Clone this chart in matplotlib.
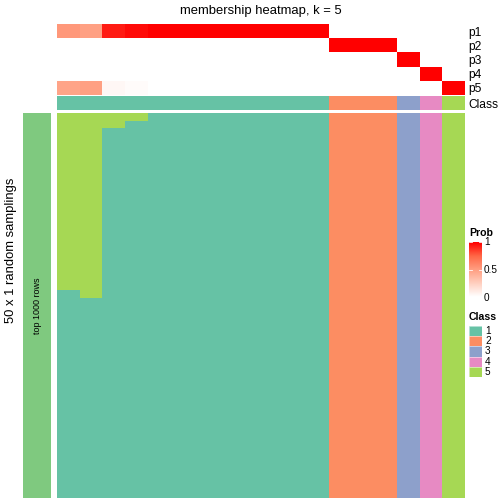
import numpy as np
import matplotlib
matplotlib.use("Agg")
import matplotlib.pyplot as plt
from matplotlib.colors import ListedColormap, LinearSegmentedColormap, BoundaryNorm

plt.rcParams["font.family"] = ["Liberation Sans", "DejaVu Sans"]

# data
sample_class = [1] * 12 + [2] * 3 + [3, 4, 5]
p1 = [0.53, 0.49, 0.93, 0.97, 1, 1, 1, 1, 1, 1, 1, 1, 0, 0, 0, 0, 0, 0]
p2 = [0, 0, 0, 0, 0, 0, 0, 0, 0, 0, 0, 0, 1, 1, 1, 0, 0, 0]
p3 = [0, 0, 0, 0, 0, 0, 0, 0, 0, 0, 0, 0, 0, 0, 0, 1, 0, 0]
p4 = [0, 0, 0, 0, 0, 0, 0, 0, 0, 0, 0, 0, 0, 0, 0, 0, 1, 0]
p5 = [0.47, 0.49, 0.04, 0.02, 0, 0, 0, 0, 0, 0, 0, 0, 0, 0, 0, 0, 0, 1]
# how many of the 50 samplings put each sample in class 5 (top rows)
n_rows = 50
class5_rows = [23, 24, 2, 1, 0, 0, 0, 0, 0, 0, 0, 0, 0, 0, 0, 0, 0, 0]

class_colors = ["#66C2A5", "#FC8D62", "#8DA0CB", "#E78AC3", "#A6D854"]
prob_cmap = LinearSegmentedColormap.from_list(
    "prob", [(0, "#FFFFFF"), (0.25, "#FFCFBF"), (0.5, "#FF9E81"), (0.75, "#FF6746"), (1, "#FF0000")])
class_cmap = ListedColormap(class_colors)
class_norm = BoundaryNorm(np.arange(0.5, 6.5, 1), 5)

W = H = 504
fig = plt.figure(figsize=(7, 7), dpi=72)


def px_axes(x0, y0, x1, y1):
    # pixel box (top-left origin) -> axes
    return fig.add_axes([x0 / W, 1 - y1 / H, (x1 - x0) / W, (y1 - y0) / H])


ncol = len(sample_class)
hm_x0, hm_x1 = 57, 465

# probability rows
probs = np.array([p1, p2, p3, p4, p5])
ax_p = px_axes(hm_x0, 24, hm_x1, 95)
ax_p.pcolormesh(np.arange(ncol + 1), np.arange(6), probs, cmap=prob_cmap, vmin=0, vmax=1)
ax_p.set_ylim(5, 0)
ax_p.axis("off")
for i in range(5):
    fig.text(468 / W, 1 - (25.5 + (i + 0.5) * 14.2) / H, f"p{i + 1}", fontsize=12, va="center")

# class row
ax_c = px_axes(hm_x0, 96, hm_x1, 110)
ax_c.pcolormesh(np.arange(ncol + 1), [0, 1], np.array([sample_class]), cmap=class_cmap, norm=class_norm)
ax_c.axis("off")
fig.text(468 / W, 1 - 104.5 / H, "Class", fontsize=12, va="center")

# membership heatmap
member = np.array([[5 if r < class5_rows[j] else sample_class[j] for j in range(ncol)]
                   for r in range(n_rows)])
ax_h = px_axes(hm_x0, 113, hm_x1, 498)
ax_h.pcolormesh(np.arange(ncol + 1), np.arange(n_rows + 1), member, cmap=class_cmap, norm=class_norm)
ax_h.set_ylim(n_rows, 0)
ax_h.axis("off")

# left bar
ax_l = px_axes(23, 113, 51, 498)
ax_l.set_facecolor("#7FC97F")
ax_l.set_xticks([])
ax_l.set_yticks([])
for s in ax_l.spines.values():
    s.set_visible(False)
ax_l.text(0.5, 0.5, "top 1000 rows", rotation=90, ha="center", va="center", fontsize=9,
          transform=ax_l.transAxes)

fig.text(11 / W, 1 - 250 / H, "50 x 1 random samplings", rotation=90, ha="center", va="center", fontsize=13)
fig.text((hm_x0 + hm_x1) / 2 / W, 1 - 11 / H, "membership heatmap, k = 5", ha="center", va="center", fontsize=13)

# Prob legend
fig.text(469 / W, 1 - 233 / H, "Prob", fontsize=10.5, fontweight="bold", va="center")
ax_cb = px_axes(469, 242, 482, 297)
grad = np.linspace(1, 0, 100).reshape(-1, 1)
ax_cb.imshow(grad, cmap=prob_cmap, vmin=0, vmax=1, aspect="auto", extent=[0, 1, 0, 1])
ax_cb.set_xticks([])
ax_cb.set_yticks([])
for s in ax_cb.spines.values():
    s.set_visible(False)
for v in [0, 0.5, 1]:
    ax_cb.plot([0, 0.2], [v, v], color="white", lw=0.8)
    ax_cb.plot([0.8, 1], [v, v], color="white", lw=0.8)
    fig.text(484 / W, 1 - (298 - v * 56) / H, f"{v:g}", fontsize=10, va="center")
ax_cb.set_xlim(0, 1)
ax_cb.set_ylim(0, 1)

# Class legend
fig.text(469 / W, 1 - 317 / H, "Class", fontsize=10.5, fontweight="bold", va="center")
for i, c in enumerate(class_colors):
    y0 = 326 + i * 10.2
    ax_b = px_axes(469, y0, 482, y0 + 10.2)
    ax_b.set_facecolor(c)
    ax_b.set_xticks([])
    ax_b.set_yticks([])
    for s in ax_b.spines.values():
        s.set_color("white")
        s.set_linewidth(0.5)
    fig.text(485 / W, 1 - (y0 + 5.1) / H, str(i + 1), fontsize=10, va="center")

fig.savefig("out.png", dpi=72)
